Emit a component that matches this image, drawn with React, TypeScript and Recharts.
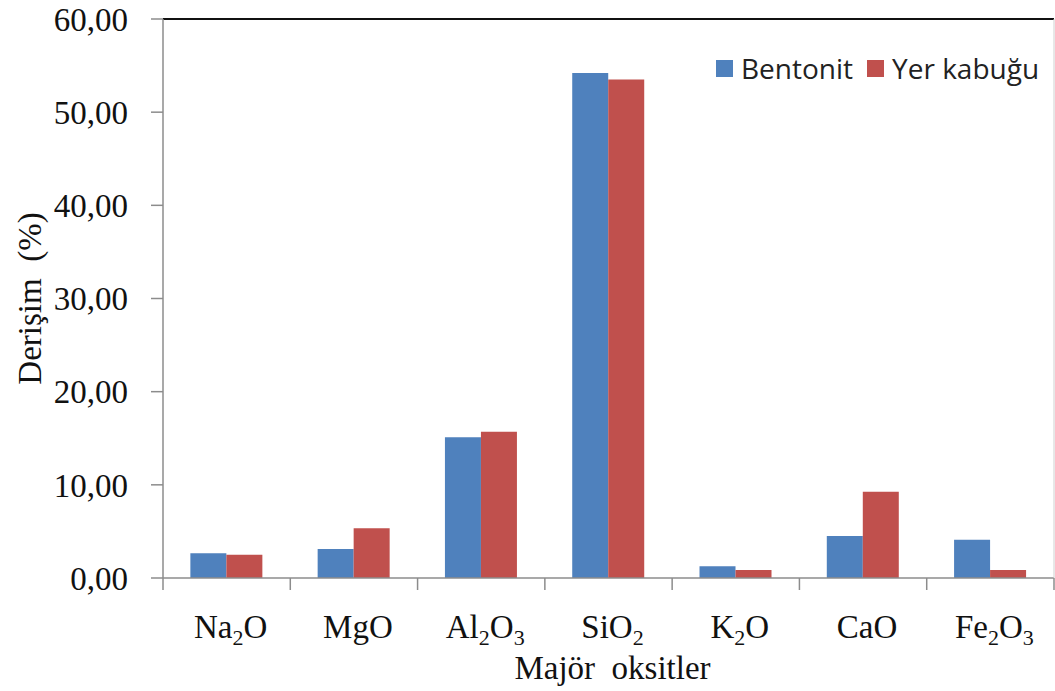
import React from "react";
import {
  BarChart,
  Bar,
  XAxis,
  YAxis,
  ReferenceLine,
} from "recharts";

const categories = ["Na2O", "MgO", "Al2O3", "SiO2", "K2O", "CaO", "Fe2O3"];
const bentonit = [2.65, 3.1, 15.1, 54.2, 1.25, 4.5, 4.1];
const yerKabugu = [2.5, 5.35, 15.7, 53.5, 0.85, 9.25, 0.85];
const yTicks = [0, 10, 20, 30, 40, 50, 60];

const seriesNames = ["Bentonit", "Yer kabuğu"];
const colors = ["#4F81BD", "#C0504D"];

const data = categories.map((name, i) => ({
  name,
  bentonit: bentonit[i],
  yer: yerKabugu[i],
}));

const W = 1055;
const H = 691;
const Y_AXIS_W = 163;
const RIGHT_W = 1;
const BAND = (W - Y_AXIS_W - RIGHT_W) / categories.length;
const SERIF = "'Liberation Serif', 'Times New Roman', serif";

// split "Al2O3" into text parts, digits become subscripts
function formulaParts(s: string) {
  return s.match(/[0-9]+|[^0-9]+/g) || [s];
}

const XTick = (props: any) => {
  const { x, y, payload, index } = props;
  const parts = formulaParts(String(payload.value));
  const left = x - BAND / 2;
  return (
    <g>
      <line x1={left} y1={y - 12} x2={left} y2={y} stroke="#8c8c8c" strokeWidth={1.5} />
      {index === categories.length - 1 && (
        <line x1={x + BAND / 2} y1={y - 12} x2={x + BAND / 2} y2={y} stroke="#8c8c8c" strokeWidth={1.5} />
      )}
      <text x={x + 4} y={y + 48} textAnchor="middle" fontFamily={SERIF} fontSize={33} fill="#111">
        {parts.map((p, i) =>
          /^[0-9]+$/.test(p) ? (
            <tspan key={i} fontSize={22} dy={7}>{p}</tspan>
          ) : (
            <tspan key={i} dy={i > 0 && /^[0-9]+$/.test(parts[i - 1]) ? -7 : 0}>{p}</tspan>
          )
        )}
      </text>
    </g>
  );
};

const YTitle = (props: any) => {
  const vb = props.viewBox;
  const cx = 30;
  const cy = vb.y + vb.height / 2;
  return (
    <text
      x={cx}
      y={cy}
      transform={`rotate(-90, ${cx}, ${cy})`}
      textAnchor="middle"
      dominantBaseline="central"
      fontFamily={SERIF}
      fontSize={33}
      fill="#111"
      style={{ whiteSpace: "pre" }}
    >
      {"Derişim  (%)"}
    </text>
  );
};

const XTitle = (props: any) => {
  const vb = props.viewBox;
  return (
    <text
      x={vb.x + vb.width / 2 + 4}
      y={vb.y + 101}
      textAnchor="middle"
      fontFamily={SERIF}
      fontSize={33}
      fill="#111"
      style={{ whiteSpace: "pre" }}
    >
      {"Majör  oksitler"}
    </text>
  );
};

// legend drawn as an overlay so it doesn't push the plot down
const LegendBox = () => (
  <div
    style={{
      position: "absolute",
      left: 716,
      top: 50,
      display: "flex",
      alignItems: "center",
      fontFamily: "'Open Sans', sans-serif",
      fontSize: 28,
      color: "#222",
      lineHeight: "36px",
    }}
  >
    {seriesNames.map((n, i) => (
      <div key={n} style={{ display: "flex", alignItems: "center", marginRight: i === 0 ? 14 : 0 }}>
        <span style={{ width: 17, height: 17, background: colors[i], display: "inline-block", marginRight: 8 }} />
        <span>{n}</span>
      </div>
    ))}
  </div>
);

export default function App() {
  return (
    <div style={{ position: "absolute", left: 0, top: 0, width: W, height: H, background: "#fff" }}>
      <BarChart
        width={W}
        height={H}
        data={data}
        margin={{ top: 19, right: 0, bottom: 0, left: 0 }}
        barCategoryGap="21.5%"
        barGap={0}
      >
        <XAxis
          dataKey="name"
          height={113}
          axisLine={{ stroke: "#8c8c8c", strokeWidth: 1.5 }}
          tickLine={false}
          tickSize={12}
          tickMargin={0}
          interval={0}
          tick={<XTick />}
          label={XTitle}
        />
        <YAxis
          yAxisId="l"
          width={Y_AXIS_W}
          domain={[0, 60]}
          ticks={yTicks}
          tickFormatter={(v: number) => v.toFixed(2).replace(".", ",")}
          axisLine={{ stroke: "#8c8c8c", strokeWidth: 1.5 }}
          tickLine={{ stroke: "#8c8c8c", strokeWidth: 1.5 }}
          tickSize={12}
          tickMargin={23}
          tick={{ fontFamily: SERIF, fontSize: 33, fill: "#111" }}
          label={YTitle}
        />
        <YAxis
          yAxisId="r"
          orientation="right"
          width={RIGHT_W}
          domain={[0, 60]}
          tick={false}
          tickLine={false}
          axisLine={{ stroke: "#d0d0d0" }}
        />
        <ReferenceLine yAxisId="l" y={60} stroke="#111" strokeWidth={2} />
        <Bar yAxisId="l" dataKey="bentonit" name={seriesNames[0]} fill={colors[0]} isAnimationActive={false} />
        <Bar yAxisId="l" dataKey="yer" name={seriesNames[1]} fill={colors[1]} isAnimationActive={false} />
      </BarChart>
      <LegendBox />
    </div>
  );
}
